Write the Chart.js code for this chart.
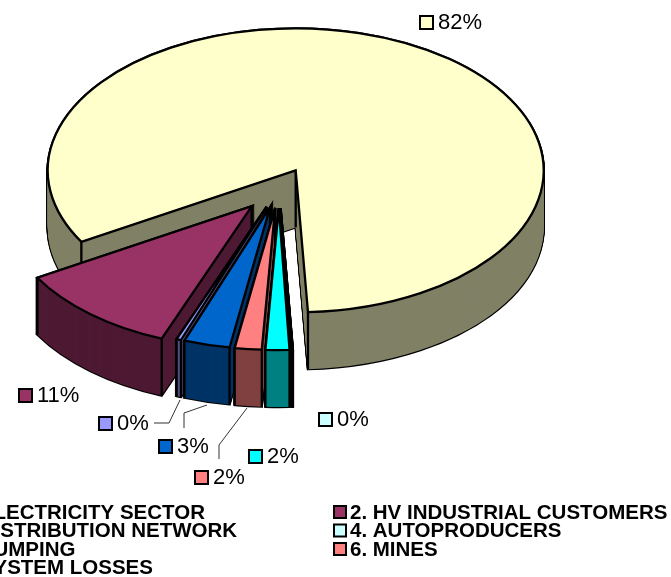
<!DOCTYPE html>
<html>
<head>
<meta charset="utf-8">
<title>Pie chart</title>
<script src="https://cdn.jsdelivr.net/npm/chart.js@4"></script>
<style>
    html, body { margin: 0; padding: 0; background: #fff; overflow: hidden; }
    canvas { display: block; }
</style>
</head>
<body>
<canvas id="pie" width="671" height="577"></canvas>
<script>
// Data
const categories = [
    '1. ELECTRICITY SECTOR', '2. HV INDUSTRIAL CUSTOMERS', '3. DISTRIBUTION NETWORK',
    '4. AUTOPRODUCERS', '5. PUMPING', '6. MINES', '7. SYSTEM LOSSES'
];
// slice sizes, labels as printed on it
const shares = [0.3, 10.7, 82.6, 0.1, 1.55, 1.75, 3.0];
const shareLabels = ['0%', '11%', '82%', '0%', '2%', '2%', '3%'];

// Colours
const topColors = ['#9999FF', '#993366', '#FFFFCC', '#CCFFFF', '#00FFFF', '#FF8080', '#0066CC'];
const sideColors = ['#4D4D80', '#4D1933', '#808066', '#668080', '#008080', '#804040', '#003366'];

// Layout
const TILT = 0.5726;
const DEPTH = 57;
const LINE = 2.3;
const explode = [35, 42, 35, 35, 35, 35, 35];
const drawOrder = [2, 3, 1, 0, 6, 5, 4];
const labelSpots = [[98, 416], [18, 388], [419, 15], [318, 412], [248, 449], [194, 470], [158, 439]];
const leaders = [
    [[180, 400], [169, 423], [154, 423]],
    null,
    null,
    null,
    null,
    [[247, 408], [219, 445], [219, 459]],
    [[207, 405], [184, 413], [184, 428]]
];
const legendCols = [-60, 333];
const legendRows = [512, 530.5, 549, 567];

function slicePath(ctx, arc, i, drop) {
    const mid = (arc.startAngle + arc.endAngle) / 2;
    ctx.save();
    ctx.translate(arc.x, arc.y + drop);
    ctx.scale(1, TILT);
    ctx.translate(Math.cos(mid) * explode[i], Math.sin(mid) * explode[i]);
    ctx.beginPath();
    ctx.moveTo(0, 0);
    ctx.arc(0, 0, arc.outerRadius, arc.startAngle, arc.endAngle);
    ctx.closePath();
    ctx.restore();
}

function corner(arc, i, angle) {
    const mid = (arc.startAngle + arc.endAngle) / 2;
    return {
        x: arc.x + Math.cos(mid) * explode[i] + (angle === null ? 0 : Math.cos(angle) * arc.outerRadius),
        y: arc.y + (Math.sin(mid) * explode[i] + (angle === null ? 0 : Math.sin(angle) * arc.outerRadius)) * TILT
    };
}

function drawSlice(ctx, arc, i) {
    ctx.strokeStyle = '#000';
    ctx.lineWidth = LINE;
    ctx.lineJoin = 'miter';

    // silhouette of the extruded slice first, walls fill in over it
    for (let k = DEPTH; k >= 0; k--) {
        slicePath(ctx, arc, i, k);
        ctx.stroke();
    }
    ctx.fillStyle = sideColors[i];
    for (let k = DEPTH; k >= 0; k--) {
        slicePath(ctx, arc, i, k);
        ctx.fill();
    }

    // vertical edges
    [null, arc.startAngle, arc.endAngle].forEach(angle => {
        const p = corner(arc, i, angle);
        ctx.beginPath();
        ctx.moveTo(p.x, p.y);
        ctx.lineTo(p.x, p.y + DEPTH);
        ctx.stroke();
    });

    // top face
    slicePath(ctx, arc, i, 0);
    ctx.fillStyle = topColors[i];
    ctx.fill();
    ctx.stroke();
}

function drawMarker(ctx, x, y, size, color) {
    ctx.fillStyle = color;
    ctx.strokeStyle = '#000';
    ctx.lineWidth = 2;
    ctx.fillRect(x + 1, y + 1, size - 2, size - 2);
    ctx.strokeRect(x + 1, y + 1, size - 2, size - 2);
}

const pie3d = {
    id: 'pie3d',
    beforeDatasetsDraw(chart) {
        const ctx = chart.ctx;
        const arcs = chart.getDatasetMeta(0).data;
        ctx.save();
        drawOrder.forEach(i => drawSlice(ctx, arcs[i], i));

        // leader lines
        ctx.strokeStyle = '#333';
        ctx.lineWidth = 1;
        leaders.forEach(pts => {
            if (!pts) return;
            ctx.beginPath();
            pts.forEach((p, n) => n ? ctx.lineTo(p[0], p[1]) : ctx.moveTo(p[0], p[1]));
            ctx.stroke();
        });

        // percentage labels
        ctx.textBaseline = 'middle';
        ctx.textAlign = 'left';
        ctx.font = '22px "Liberation Sans", Arial, sans-serif';
        shareLabels.forEach((text, i) => {
            const [x, y] = labelSpots[i];
            drawMarker(ctx, x, y, 15, topColors[i]);
            ctx.fillStyle = '#000';
            ctx.fillText(text, x + 19, y + 8);
        });

        // legend, left column runs off the canvas like in the original
        ctx.font = 'bold 20.5px "Liberation Sans", Arial, sans-serif';
        categories.forEach((name, i) => {
            const col = legendCols[i % 2];
            const y = legendRows[Math.floor(i / 2)];
            drawMarker(ctx, col, y - 7, 14, topColors[i]);
            ctx.fillStyle = '#000';
            ctx.fillText(name, col + 17, y + 1);
        });
        ctx.restore();
        return false;
    }
};

new Chart(document.getElementById('pie'), {
    type: 'pie',
    data: {
        labels: categories,
        datasets: [{ data: shares, backgroundColor: topColors, borderColor: '#000', borderWidth: 0 }]
    },
    options: {
        responsive: false,
        animation: false,
        rotation: 200.2,
        radius: 248,
        layout: { padding: { left: 0, right: 113, top: 0, bottom: 201 } },
        plugins: { legend: { display: false }, tooltip: { enabled: false } }
    },
    plugins: [pie3d]
});
</script>
</body>
</html>
